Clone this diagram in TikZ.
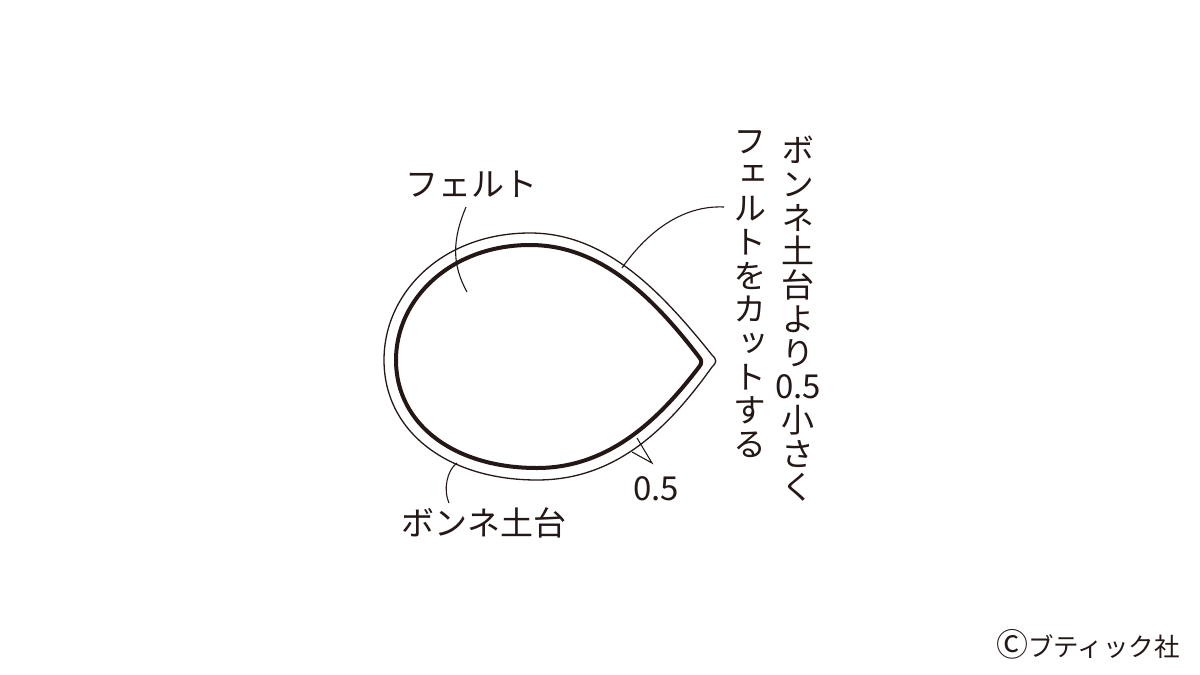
\documentclass[tikz,border=0pt]{standalone}
\usepackage{fontspec}
\setmainfont{Noto Sans CJK JP}
\newfontfamily\vfont[RawFeature=+vert]{Noto Sans CJK JP}
\definecolor{ink}{RGB}{35,24,21}
\tikzset{
  lbl/.style={inner sep=0pt, text=ink, font=\fontsize{33}{36}\selectfont},
  vcol/.style={inner sep=0pt, text=ink, align=center, font=\vfont\fontsize{33}{33.7}\selectfont},
  leader/.style={draw=ink, line width=1.1pt},
  outerline/.style={draw=ink, line width=1.3pt, line join=round},
  innerline/.style={draw=ink, line width=4pt, line join=round},
}
\begin{document}
\begin{tikzpicture}[x=1pt,y=-1pt]
\useasboundingbox (0,0) rectangle (1200,675);
\fill[white] (0,0) rectangle (1200,675);

% outer (bonnet base)
\path[outerline] (530,233) .. controls (443,233) and (384,292) .. (384,360)
  .. controls (384,432) and (448,480) .. (537,480)
  .. controls (615,480) and (667,430) .. (712,367)
  .. controls (717,362) and (717,360) .. (712,355)
  .. controls (660,290) and (605,233) .. (530,233) -- cycle;
% inner (felt)
\path[innerline] (530,245) .. controls (452,245) and (396,298) .. (396,360)
  .. controls (396,425) and (455,468) .. (537,468)
  .. controls (610,468) and (660,418) .. (699,367)
  .. controls (702,364) and (702,360) .. (699,357)
  .. controls (650,293) and (598,245) .. (530,245) -- cycle;

% labels
\node[lbl] (felt) at (471,184) {フェルト};
\node[lbl] (base) at (484,523) {ボンネ土台};
\node[lbl] (dim) at (656,489) {0.5};
\node[inner sep=0pt, text=ink, font=\fontsize{25.5}{30}\selectfont, anchor=east] (copy) at (1180,644) {{\fontsize{32}{32}\selectfont Ⓒ}ブティック社};

\node[vcol] (vr) at (798,319) {ボ\\ン\\ネ\\土\\台\\よ\\り\\{\vfont 0.5}\\小\\さ\\く};
\node[vcol] (vl) at (750,294) {フ\\ェ\\ル\\ト\\を\\カ\\ッ\\ト\\す\\る};

% leader end points
\coordinate (f1) at (466,207);
\coordinate (f2) at (467,292);
\coordinate (r1) at (724,207);
\coordinate (r2) at (622,268);
\coordinate (b1) at (449,503);
\coordinate (b2) at (457,463);
\coordinate (d0) at (652,463);
\coordinate (d1) at (637,438);
\coordinate (d2) at (632,452);

\draw[leader] (f1) .. controls (452,240) and (452,265) .. (f2);
\draw[leader] (r1) .. controls (680,205) and (645,235) .. (r2);
\draw[leader] (b1) .. controls (443,490) and (447,470) .. (b2);
\draw[leader, line join=miter] (d1) -- (d0) -- (d2);
\end{tikzpicture}
\end{document}
